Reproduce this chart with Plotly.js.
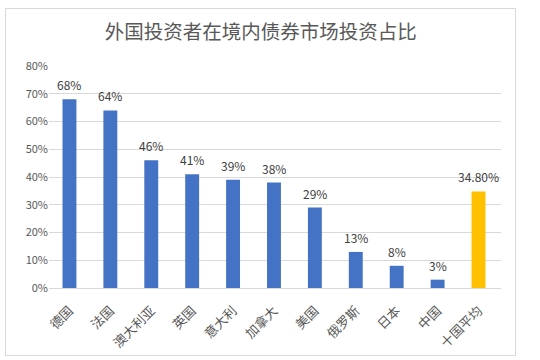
<!DOCTYPE html>
<html><head><meta charset="utf-8">
<script src="https://cdn.plot.ly/plotly-3.0.1.min.js"></script>
<style>
html,body{margin:0;padding:0;background:#fff;}
#frame{position:absolute;left:5px;top:8px;width:511px;height:348px;border:1px solid #D9D9D9;box-sizing:border-box;}
#chart{position:absolute;left:0;top:0;width:540px;height:360px;}
</style></head>
<body>
<div id="frame"></div>
<div id="chart"></div>
<script>
const categories = ["德国","法国","澳大利亚","英国","意大利","加拿大","美国","俄罗斯","日本","中国","十国平均"];
const values = [0.68,0.64,0.46,0.41,0.39,0.38,0.29,0.13,0.08,0.03,0.348];
const labels = ["68%","64%","46%","41%","39%","38%","29%","13%","8%","3%","34.80%"];
const colors = categories.map((c,i)=> i===categories.length-1 ? "#FFC000" : "#4472C4");
const tickVals = [0,0.1,0.2,0.3,0.4,0.5,0.6,0.7,0.8];
const tickText = ["0%","10%","20%","30%","40%","50%","60%","70%","80%"];
const font = '"Microsoft YaHei","Noto Sans CJK SC","DejaVu Sans",sans-serif';
const annotations = categories.map((c,i)=>({
  x:c, y:values[i], text:labels[i], showarrow:false, yanchor:"bottom", yshift:4,
  font:{family:font,size:12,color:"#404040"}
}));
Plotly.newPlot("chart",[{
  type:"bar", x:categories, y:values,
  marker:{color:colors}, hoverinfo:"none"
}],{
  width:540,height:360,
  paper_bgcolor:"rgba(0,0,0,0)",plot_bgcolor:"rgba(0,0,0,0)",
  margin:{l:49,r:39,t:66,b:72},
  bargap:0.66,
  annotations:annotations,
  title:{text:"外国投资者在境内债券市场投资占比",font:{family:font,size:19.5,color:"#595959"},x:0.483,xanchor:"center",y:0.91,yanchor:"middle"},
  xaxis:{tickangle:-45,tickfont:{family:font,size:13,color:"#595959"},showline:true,linecolor:"#D9D9D9",ticks:"outside",ticklen:9,tickcolor:"rgba(0,0,0,0)",fixedrange:true},
  yaxis:{range:[0,0.8],tickvals:tickVals,ticktext:tickText,tickfont:{family:font,size:11,color:"#595959"},gridcolor:"#D9D9D9",zeroline:false,showline:false,ticks:"",ticklen:0,fixedrange:true},
  showlegend:false
},{displayModeBar:false,staticPlot:true});
</script>
</body></html>
